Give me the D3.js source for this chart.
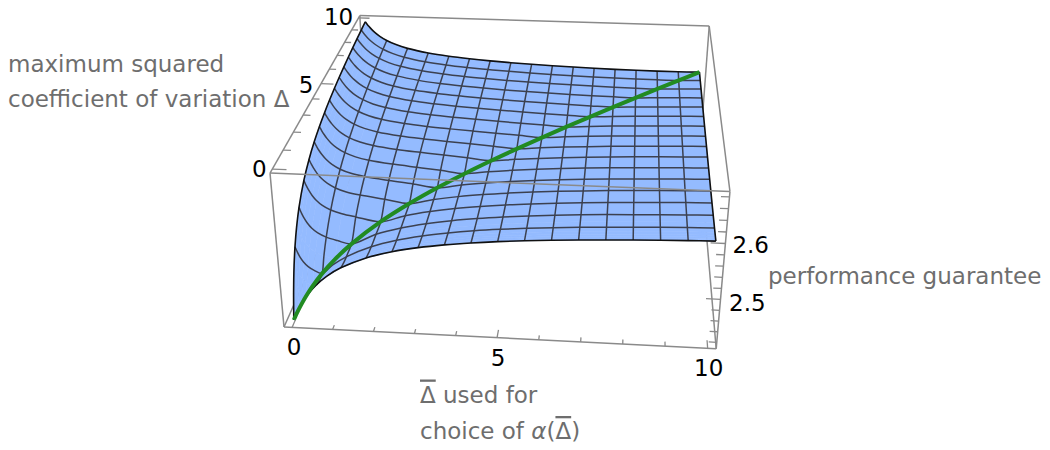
<!DOCTYPE html>
<html><head><meta charset="utf-8"><script src="https://cdn.jsdelivr.net/npm/d3@7"></script>
<style>html,body{margin:0;background:#fff}svg{display:block}text{font-family:"DejaVu Sans"}</style></head><body>
<svg id="c" width="1050" height="450"></svg>
<script>
// sample positions, both for Δ̄ (first index) and Δ (second index)
const samples=[0,.02,.05,.1,.18,.28,.42,.625,.9,1.25,1.875,2.5,3.125,3.75,4.375,5,5.625,6.25,6.875,7.5,8.125,8.75,9.375,10];
// performance guarantee, one row per sample of Δ̄
const row00=[2.4136,2.4195,2.4279,2.4408,2.4591,2.4787,2.5014,2.5274,2.5534,2.5771,2.6051,2.6230,2.6356,2.6449,2.6521,2.6578,2.6625,2.6665,2.6698,2.6727,2.6753,2.6775,2.6795,2.6813];
const row01=[2.4169,2.4167,2.4248,2.4374,2.4553,2.4745,2.4969,2.5228,2.5487,2.5727,2.6010,2.6193,2.6322,2.6417,2.6491,2.6550,2.6599,2.6639,2.6674,2.6704,2.6730,2.6753,2.6774,2.6793];
const row02=[2.4217,2.4211,2.4211,2.4331,2.4505,2.4692,2.4911,2.5167,2.5426,2.5667,2.5955,2.6142,2.6275,2.6373,2.6450,2.6511,2.6561,2.6604,2.6640,2.6671,2.6698,2.6722,2.6744,2.6763];
const row03=[2.4292,2.4284,2.4280,2.4280,2.4444,2.4623,2.4835,2.5085,2.5342,2.5583,2.5876,2.6068,2.6205,2.6308,2.6388,2.6452,2.6505,2.6550,2.6588,2.6621,2.6649,2.6675,2.6698,2.6718];
const row04=[2.4400,2.4392,2.4385,2.4381,2.4380,2.4548,2.4749,2.4990,2.5241,2.5480,2.5775,2.5973,2.6115,2.6222,2.6305,2.6373,2.6429,2.6476,2.6516,2.6551,2.6582,2.6609,2.6633,2.6655];
const row05=[2.4519,2.4512,2.4504,2.4496,2.4492,2.4492,2.4682,2.4911,2.5154,2.5389,2.5683,2.5882,2.6027,2.6137,2.6224,2.6294,2.6352,2.6401,2.6443,2.6479,2.6511,2.6539,2.6565,2.6588];
const row06=[2.4661,2.4655,2.4647,2.4638,2.4630,2.4627,2.4627,2.4844,2.5077,2.5305,2.5594,2.5793,2.5938,2.6049,2.6137,2.6209,2.6268,2.6319,2.6362,2.6399,2.6432,2.6461,2.6488,2.6511];
const row07=[2.4830,2.4825,2.4818,2.4809,2.4799,2.4792,2.4789,2.4790,2.5012,2.5232,2.5513,2.5709,2.5852,2.5963,2.6050,2.6122,2.6181,2.6232,2.6275,2.6313,2.6346,2.6375,2.6402,2.6426];
const row08=[2.5006,2.5001,2.4996,2.4987,2.4977,2.4969,2.4962,2.4960,2.4960,2.5176,2.5451,2.5642,2.5782,2.5890,2.5976,2.6046,2.6104,2.6153,2.6196,2.6233,2.6265,2.6294,2.6320,2.6343];
const row09=[2.5172,2.5169,2.5164,2.5158,2.5149,2.5140,2.5132,2.5125,2.5124,2.5125,2.5402,2.5592,2.5730,2.5835,2.5918,2.5985,2.6041,2.6089,2.6129,2.6165,2.6196,2.6223,2.6248,2.6270];
const row10=[2.5376,2.5374,2.5370,2.5366,2.5359,2.5351,2.5343,2.5335,2.5329,2.5328,2.5330,2.5531,2.5672,2.5777,2.5857,2.5922,2.5975,2.6019,2.6056,2.6089,2.6117,2.6143,2.6165,2.6185];
const row11=[2.5511,2.5509,2.5507,2.5503,2.5498,2.5492,2.5485,2.5477,2.5470,2.5466,2.5466,2.5468,2.5624,2.5734,2.5817,2.5881,2.5932,2.5975,2.6010,2.6041,2.6067,2.6090,2.6111,2.6129];
const row12=[2.5607,2.5606,2.5604,2.5601,2.5597,2.5592,2.5586,2.5579,2.5572,2.5567,2.5564,2.5566,2.5569,2.5693,2.5782,2.5848,2.5900,2.5942,2.5976,2.6006,2.6031,2.6052,2.6072,2.6089];
const row13=[2.5679,2.5678,2.5677,2.5674,2.5671,2.5667,2.5662,2.5655,2.5649,2.5644,2.5640,2.5640,2.5642,2.5645,2.5746,2.5818,2.5872,2.5915,2.5949,2.5978,2.6002,2.6023,2.6041,2.6057];
const row14=[2.5735,2.5734,2.5733,2.5731,2.5728,2.5725,2.5720,2.5715,2.5709,2.5704,2.5699,2.5698,2.5699,2.5702,2.5705,2.5788,2.5847,2.5891,2.5927,2.5955,2.5979,2.5999,2.6017,2.6032];
const row15=[2.5780,2.5779,2.5778,2.5776,2.5774,2.5771,2.5767,2.5762,2.5757,2.5752,2.5747,2.5745,2.5746,2.5748,2.5751,2.5753,2.5821,2.5870,2.5907,2.5936,2.5960,2.5980,2.5997,2.6012];
const row16=[2.5816,2.5815,2.5815,2.5813,2.5811,2.5809,2.5805,2.5801,2.5796,2.5792,2.5786,2.5784,2.5784,2.5786,2.5788,2.5791,2.5794,2.5849,2.5889,2.5920,2.5944,2.5964,2.5981,2.5995];
const row17=[2.5847,2.5846,2.5845,2.5844,2.5842,2.5840,2.5837,2.5833,2.5829,2.5825,2.5820,2.5817,2.5817,2.5818,2.5820,2.5823,2.5825,2.5828,2.5873,2.5906,2.5931,2.5951,2.5967,2.5981];
const row18=[2.5872,2.5872,2.5871,2.5870,2.5868,2.5867,2.5864,2.5861,2.5857,2.5853,2.5848,2.5845,2.5845,2.5845,2.5847,2.5849,2.5852,2.5855,2.5857,2.5893,2.5920,2.5940,2.5956,2.5970];
const row19=[2.5894,2.5894,2.5893,2.5892,2.5891,2.5889,2.5887,2.5884,2.5880,2.5877,2.5872,2.5869,2.5869,2.5869,2.5870,2.5872,2.5875,2.5878,2.5880,2.5883,2.5911,2.5932,2.5948,2.5961];
const row20=[2.5913,2.5913,2.5912,2.5912,2.5910,2.5909,2.5907,2.5904,2.5901,2.5897,2.5893,2.5891,2.5890,2.5890,2.5891,2.5893,2.5895,2.5897,2.5900,2.5903,2.5906,2.5927,2.5942,2.5955];
const row21=[2.5930,2.5930,2.5929,2.5928,2.5927,2.5926,2.5924,2.5922,2.5919,2.5916,2.5912,2.5909,2.5908,2.5908,2.5909,2.5910,2.5913,2.5915,2.5918,2.5920,2.5923,2.5926,2.5941,2.5952];
const row22=[2.5945,2.5944,2.5944,2.5943,2.5942,2.5941,2.5939,2.5937,2.5934,2.5932,2.5928,2.5925,2.5924,2.5924,2.5925,2.5926,2.5928,2.5930,2.5933,2.5936,2.5938,2.5941,2.5944,2.5953];
const row23=[2.5958,2.5958,2.5957,2.5957,2.5956,2.5954,2.5953,2.5951,2.5949,2.5946,2.5942,2.5940,2.5939,2.5939,2.5939,2.5941,2.5942,2.5944,2.5947,2.5949,2.5952,2.5955,2.5958,2.5960];
const guarantee=[row00,row01,row02,row03,row04,row05,row06,row07,row08,row09,row10,row11,row12,row13,row14,row15,row16,row17,row18,row19,row20,row21,row22,row23];
const axisTicks=[0,1,2,3,4,5,6,7,8,9,10];
const axisLabels=[0,5,10];
const zTicks=[2.42,2.44,2.46,2.48,2.5,2.52,2.54,2.56,2.58,2.6,2.62,2.64,2.66,2.68];
const zLabels=[2.5,2.6];
const meshSpacing=.625;

const S=samples,Z=guarantee;
const zMin=2.408,zMax=2.689;
const meshIdx=S.map((s,i)=>i).filter(i=>Math.abs(S[i]/meshSpacing-Math.round(S[i]/meshSpacing))<1e-9);
const P=[[412.5,191,-30.05,284],[12.1,-143.5,-164.2,327],[-.0275,.296,-.0595,1]];
const su=d3.scaleLinear([-.2,10.2],[0,1]),sv=d3.scaleLinear([-.2,10.2],[0,1]),sw=d3.scaleLinear([zMin,zMax],[0,1]);
function pr(u,v,w){const q=P.map(r=>r[0]*u+r[1]*v+r[2]*w+r[3]);return [q[0]/q[2],q[1]/q[2]];}
const pt=(x,D,z)=>pr(su(x),sv(D),sw(z));
const svg=d3.select('#c');
const line=d3.line();const smooth=d3.line().curve(d3.curveCatmullRom.alpha(.5));
const box='#8a8a8a';
function edge(a,b,g=svg,c=box,w=1.5){g.append('path').attr('d',line([pr(...a),pr(...b)])).attr('stroke',c).attr('stroke-width',w).attr('fill','none');}
[[[0,1,0],[1,1,0]],[[0,0,0],[0,1,0]],[[1,0,0],[1,1,0]],[[0,1,0],[0,1,1]],[[1,1,0],[1,1,1]],[[0,1,1],[1,1,1]],[[0,0,1],[0,1,1]],[[1,0,1],[1,1,1]]].forEach(e=>edge(...e));
const gS=svg.append('g');
for(let i=0;i<S.length-1;i++)for(let j=0;j<S.length-1;j++){
 const q=[pt(S[i],S[j],Z[i][j]),pt(S[i+1],S[j],Z[i+1][j]),pt(S[i+1],S[j+1],Z[i+1][j+1]),pt(S[i],S[j+1],Z[i][j+1])];
 gS.append('path').attr('d',line(q)+'Z').attr('fill','#94bbff').attr('stroke','#94bbff').attr('stroke-width',.6);
}
const mesh='#3c4150';
meshIdx.slice(1,-1).forEach(i=>{
 gS.append('path').attr('d',smooth(S.map((d,j)=>pt(S[i],d,Z[i][j])))).attr('fill','none').attr('stroke',mesh).attr('stroke-width',1.5);
 gS.append('path').attr('d',smooth(S.map((x,j)=>pt(x,S[i],Z[j][i])))).attr('fill','none').attr('stroke',mesh).attr('stroke-width',1.5);
});
const n=S.length-1;
[S.map((d,j)=>pt(S[0],d,Z[0][j])),S.map((d,j)=>pt(S[n],d,Z[n][j])),S.map((x,j)=>pt(x,S[0],Z[j][0])),S.map((x,j)=>pt(x,S[n],Z[j][n]))].forEach(p=>
 gS.append('path').attr('d',smooth(p)).attr('fill','none').attr('stroke','#111').attr('stroke-width',1.6));
gS.append('path').attr('d',smooth(S.map((x,i)=>pt(x,x,Z[i][i])))).attr('fill','none').attr('stroke','#228b22').attr('stroke-width',4).attr('stroke-linecap','butt');
[[[0,0,0],[1,0,0]],[[0,0,0],[0,0,1]],[[1,0,0],[1,0,1]],[[0,0,1],[1,0,1]]].forEach(e=>edge(...e));
axisTicks.forEach(t=>{const L=t%5==0?.032:.018;
 edge([su(t),0,0],[su(t),L,0],svg,box,1.3);
 edge([0,sv(t),1],[L,sv(t),1],svg,box,1.3);});
zTicks.forEach(t=>{const L=zLabels.includes(t)?.032:.018;
 edge([1,0,sw(t)],[1-L,0,sw(t)],svg,box,1.3);});
function T(p,s,dx,dy,col='#000',size=23,anchor='middle'){return svg.append('text').attr('x',p[0]+dx).attr('y',p[1]+dy).attr('text-anchor',anchor).attr('font-size',size).attr('fill',col).text(s);}
axisLabels.forEach(t=>T(pr(su(t),0,0),t,t==0?2:1,28));
axisLabels.forEach(t=>T(pr(0,sv(t),1),t,t==10?-20:t==5?-15:-13,t==0?8:t==5?9:7));
zLabels.forEach(t=>T(pr(1,0,sw(t)),t.toFixed(1),t==2.5?8.5:7,t==2.5?12:9,'#000',23,'start'));
const G='#6e6e6e';
svg.append('text').attr('x',8).attr('y',72).attr('font-size',23).attr('fill',G).text('maximum squared');
svg.append('text').attr('x',8).attr('y',107).attr('font-size',23).attr('fill',G).text('coefficient of variation Δ');
svg.append('text').attr('x',768).attr('y',284).attr('font-size',23).attr('fill',G).text('performance guarantee');
const l1=svg.append('text').attr('x',420).attr('y',402.5).attr('font-size',23).attr('fill',G);
l1.append('tspan').style('text-decoration','overline').text('Δ');l1.append('tspan').text(' used for');
const l2=svg.append('text').attr('x',420).attr('y',439).attr('font-size',23).attr('fill',G);
l2.append('tspan').text('choice of ');l2.append('tspan').attr('font-style','italic').text('α');l2.append('tspan').text('(');l2.append('tspan').style('text-decoration','overline').text('Δ');l2.append('tspan').text(')');
</script></body></html>
